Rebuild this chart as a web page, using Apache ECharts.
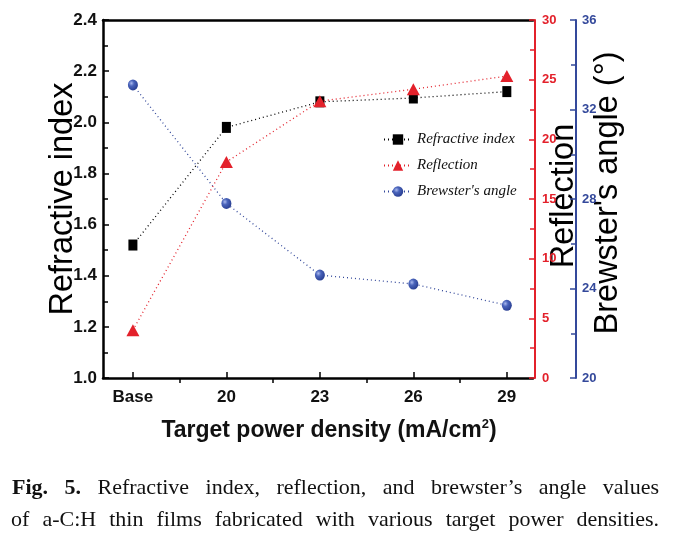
<!DOCTYPE html>
<html>
<head>
<meta charset="utf-8">
<script src="https://cdn.jsdelivr.net/npm/echarts@6/dist/echarts.min.js"></script>
<style>
html,body{margin:0;padding:0;background:#fff;}
#chart{width:677px;height:538px;}
</style>
</head>
<body>
<div id="chart"></div>
<script>
// ---- data ----
const categories = ['Base', '20', '23', '26', '29'];
const refractiveIndex = [1.52, 1.98, 2.08, 2.095, 2.12];
const reflection = [4.0, 18.1, 23.2, 24.2, 25.3];
const brewsterAngle = [33.1, 27.8, 24.6, 24.2, 23.25];
const refTicks = [1.0, 1.2, 1.4, 1.6, 1.8, 2.0, 2.2, 2.4];
const reflTicks = [0, 5, 10, 15, 20, 25, 30];
const brewTicks = [20, 24, 28, 32, 36];
const captionLine1 = ['Fig.', '5.', 'Refractive', 'index,', 'reflection,', 'and', 'brewster\u2019s', 'angle', 'values'];
const captionBold1 = 2;
const captionLine2 = ['of', 'a-C:H', 'thin', 'films', 'fabricated', 'with', 'various', 'target', 'power', 'densities.'];

// ---- style ----
const RED = '#e3212b';
const BLUE = '#34499b';
const NARROW = '"Liberation Sans", Arial, sans-serif';
const SANS = '"Liberation Sans", Arial, sans-serif';
const SERIF = '"Liberation Serif", "Times New Roman", serif';

const pts = arr => arr.map((v, i) => [i, v]);
const catIdx = categories.map((c, i) => i);
const midIdx = categories.slice(1).map((c, i) => i + 0.5);

// caption justified layout
function measure(word, font) {
  const c = document.createElement('canvas').getContext('2d');
  c.font = font;
  return c.measureText(word).width;
}
function justify(words, boldCount, y, x0, x1, size) {
  const fonts = words.map((w, i) => (i < boldCount ? 'bold ' : '') + size + 'px ' + SERIF);
  const widths = words.map((w, i) => measure(w, fonts[i]));
  const total = widths.reduce((a, b) => a + b, 0);
  const gap = (x1 - x0 - total) / (words.length - 1);
  let x = x0;
  return words.map((w, i) => {
    const el = {
      type: 'text', left: x, top: y,
      style: { text: w, font: fonts[i], fill: '#111' }
    };
    x += widths[i] + gap;
    return el;
  });
}

const chart = echarts.init(document.getElementById('chart'), null, { renderer: 'canvas' });

const sphere = {
  type: 'radial', x: 0.35, y: 0.35, r: 0.75,
  colorStops: [{ offset: 0, color: '#aab9ee' }, { offset: 0.35, color: '#4a64bb' }, { offset: 1, color: '#24398c' }]
};

chart.setOption({
  animation: false,
  backgroundColor: '#fff',
  grid: { left: 103, right: 144, top: 20, bottom: 160, containLabel: false },
  legend: {
    orient: 'vertical', left: 378, top: 127,
    itemWidth: 28, itemHeight: 13, itemGap: 11,
    textStyle: { fontFamily: SERIF, fontStyle: 'italic', fontSize: 15, color: '#111' },
    data: ['Refractive index', 'Reflection', "Brewster's angle"]
  },
  xAxis: [
    {
      type: 'value', position: 'bottom', min: -0.32, max: 4.28,
      axisLine: { show: true, onZero: false, lineStyle: { color: '#000', width: 2.5 } },
      axisTick: { show: true, inside: true, length: 6, customValues: catIdx, lineStyle: { color: '#000', width: 1.5 } },
      axisLabel: {
        customValues: catIdx, formatter: v => categories[Math.round(v)],
        fontFamily: NARROW, fontWeight: 'bold', fontSize: 17, color: '#111', margin: 11
      },
      splitLine: { show: false },
      name: '{a|Target power density (mA/cm}{s|2}{a|)}',
      nameLocation: 'middle', nameGap: 40,
      nameTextStyle: {
        padding: [0, 0, 0, 22],
        rich: {
          a: { fontFamily: NARROW, fontWeight: 'bold', fontSize: 23, color: '#111' },
          s: { fontFamily: NARROW, fontWeight: 'bold', fontSize: 13, color: '#111', verticalAlign: 'top', padding: [0, 0, 12, 0] }
        }
      }
    },
    {
      type: 'value', position: 'bottom', min: -0.32, max: 4.28,
      axisLine: { show: false, onZero: false },
      axisTick: { show: true, inside: false, length: 5, customValues: midIdx, lineStyle: { color: '#000', width: 1.5 } },
      axisLabel: { show: false },
      splitLine: { show: false }
    },
    {
      type: 'value', position: 'top', min: -0.32, max: 4.28,
      axisLine: { show: true, onZero: false, lineStyle: { color: '#000', width: 2.5 } },
      axisTick: { show: false }, axisLabel: { show: false }, splitLine: { show: false }
    }
  ],
  yAxis: [
    {
      type: 'value', position: 'left', min: refTicks[0], max: refTicks[refTicks.length - 1], interval: 0.2,
      axisLine: { show: true, onZero: false, lineStyle: { color: '#000', width: 2.5 } },
      axisTick: { show: true, inside: true, length: 6, lineStyle: { color: '#000', width: 1.5 } },
      minorTick: { show: true, splitNumber: 2, length: 5, lineStyle: { color: '#000', width: 1.5 } },
      axisLabel: { formatter: v => v.toFixed(1), fontFamily: NARROW, fontSize: 17, fontWeight: 'bold', color: '#111', margin: 6 },
      splitLine: { show: false },
      name: 'Refractive index', nameLocation: 'middle', nameRotate: 90, nameGap: 23, nameMoveOverlap: false,
      nameTextStyle: { fontFamily: SANS, fontSize: 32.5, color: '#000' }
    },
    {
      type: 'value', position: 'right', offset: 2, min: reflTicks[0], max: reflTicks[reflTicks.length - 1], interval: 5,
      axisLine: { show: true, onZero: false, lineStyle: { color: RED, width: 2 } },
      axisTick: { show: true, inside: true, length: 6, lineStyle: { color: RED, width: 1.5 } },
      minorTick: { show: true, splitNumber: 2, length: 5, lineStyle: { color: RED, width: 1.5 } },
      axisLabel: { fontFamily: NARROW, fontSize: 13, fontWeight: 'bold', color: RED, margin: 7 },
      splitLine: { show: false },
      name: 'Reflection', nameLocation: 'middle', nameRotate: 90, nameGap: 13, nameMoveOverlap: false,
      nameTextStyle: { fontFamily: SANS, fontSize: 32.5, color: '#000', padding: [0, 0, 0, 6] }
    },
    {
      type: 'value', position: 'right', offset: 43, min: brewTicks[0], max: brewTicks[brewTicks.length - 1], interval: 4,
      axisLine: { show: true, onZero: false, lineStyle: { color: BLUE, width: 2 } },
      axisTick: { show: true, inside: true, length: 6, lineStyle: { color: BLUE, width: 1.5 } },
      minorTick: { show: true, splitNumber: 2, length: 5, lineStyle: { color: BLUE, width: 1.5 } },
      axisLabel: { fontFamily: NARROW, fontSize: 13, fontWeight: 'bold', color: BLUE, margin: 6 },
      splitLine: { show: false },
      name: "Brewster's angle (\u00b0)", nameLocation: 'middle', nameRotate: 90, nameGap: 16, nameMoveOverlap: false,
      nameTextStyle: { fontFamily: SANS, fontSize: 32.5, color: '#000', padding: [0, 0, 0, 12] }
    }
  ],
  series: [
    {
      name: 'Refractive index', type: 'line', xAxisIndex: 0, yAxisIndex: 0,
      data: pts(refractiveIndex), symbol: 'rect', symbolSize: [9, 11],
      itemStyle: { color: '#000' },
      lineStyle: { color: '#000', width: 1.3, type: [1, 3] }, z: 3
    },
    {
      name: 'Reflection', type: 'line', xAxisIndex: 0, yAxisIndex: 1,
      data: pts(reflection), symbol: 'triangle', symbolSize: [13, 12],
      itemStyle: { color: RED },
      lineStyle: { color: RED, width: 1.3, type: [1, 3] }, z: 4
    },
    {
      name: "Brewster's angle", type: 'line', xAxisIndex: 0, yAxisIndex: 2,
      data: pts(brewsterAngle), symbol: 'circle', symbolSize: [10, 11],
      itemStyle: { color: sphere },
      lineStyle: { color: BLUE, width: 1.3, type: [1, 3] }, z: 3
    }
  ],
  graphic: [].concat(
    justify(captionLine1, captionBold1, 477, 12, 659, 22),
    justify(captionLine2, 0, 509, 11, 659, 22)
  )
});
</script>
</body>
</html>
